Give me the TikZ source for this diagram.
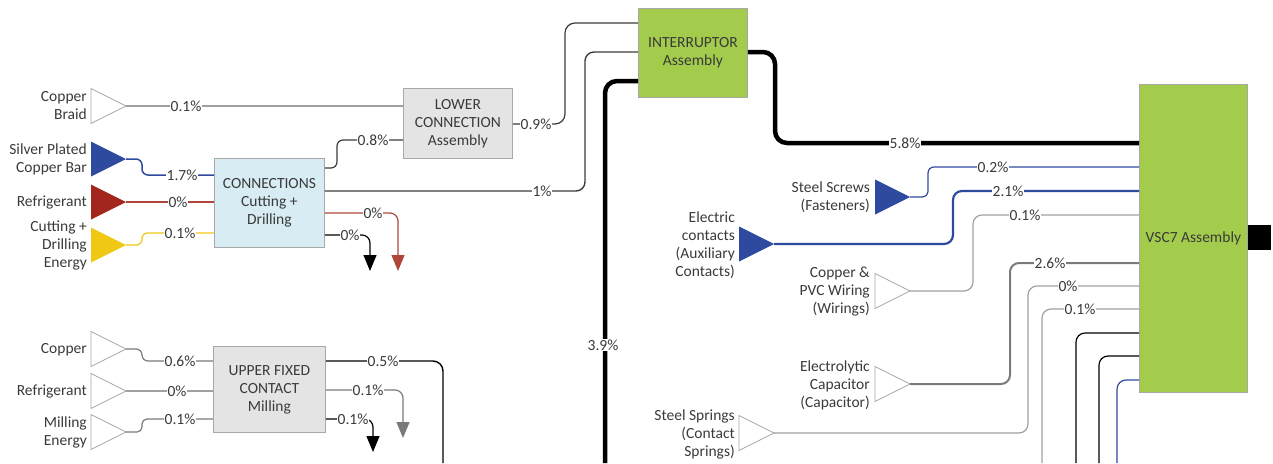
\documentclass[tikz,border=0pt]{standalone}
\usepackage{fontspec}
\setmainfont{Carlito}
\usetikzlibrary{arrows.meta}
\definecolor{txt}{HTML}{3A3A3A}
\definecolor{blu}{HTML}{2E4A9E}
\definecolor{redd}{HTML}{A3261E}
\definecolor{redl}{HTML}{B0453C}
\definecolor{yel}{HTML}{F0C814}
\definecolor{grn}{HTML}{A4CC4C}
\definecolor{lblue}{HTML}{D7ECF3}
\definecolor{lgray}{HTML}{E4E4E4}
\definecolor{bord}{HTML}{A8A8A8}
\definecolor{lin}{HTML}{A0A0A0}
\definecolor{mlin}{HTML}{7A7A7A}
\definecolor{dlin}{HTML}{3C3C3C}
\newcommand\srctri[4]{%
  \path[#4] (#1,#2-17.5) -- (#1,#2+17.5) -- (#1+35,#2) -- cycle;
  \coordinate (#3) at (#1+35,#2);}
\begin{document}
\begin{tikzpicture}[x=1pt,y=-1pt,font=\fontsize{15.5}{18}\selectfont,text=txt,
  box/.style={draw=bord,line width=0.8pt,align=center,anchor=north west,inner sep=0pt},
  lab/.style={fill=white,inner sep=1pt,text=txt},
  srclab/.style={anchor=east,align=right,inner sep=0pt},
  srcw/.style={draw=bord,fill=white,line width=0.8pt},
  srcb/.style={fill=blu},
  srcr/.style={fill=redd},
  srcy/.style={fill=yel},
  flow/.style={line width=1.2pt,rounded corners=6pt},
  tip/.style={-{Triangle[width=13pt,length=16pt]}}
]
\useasboundingbox (0,0) rectangle (1273,463);
% ---------- boxes
\node[box,fill=lblue,minimum width=110pt,minimum height=89pt] (conn) at (214,158) {CONNECTIONS\\Cutting +\\Drilling};
\node[box,fill=lgray,minimum width=109pt,minimum height=70pt] (lower) at (403,88) {LOWER\\CONNECTION\\Assembly};
\node[box,fill=grn,minimum width=109pt,minimum height=89pt] (intr) at (638,8) {INTERRUPTOR\\Assembly};
\node[box,fill=grn,minimum width=108pt,minimum height=308pt] (vsc) at (1139,84) {VSC7 Assembly};
\node[box,fill=lgray,minimum width=112pt,minimum height=86pt] (upper) at (213,346) {UPPER FIXED\\CONTACT\\Milling};
% ---------- sources
\srctri{91}{106}{cbt}{srcw}
\node[srclab] (tcb) at (87,105.5) {Copper\\Braid};
\srctri{91}{159}{spt}{srcb}
\node[srclab] (tsp) at (87,159) {Silver Plated\\Copper Bar};
\srctri{91}{202}{rft}{srcr}
\node[srclab] (trf) at (87,202) {Refrigerant};
\srctri{91}{245}{cet}{srcy}
\node[srclab] (tce) at (87,245) {Cutting +\\Drilling\\Energy};
\srctri{91}{349}{ukt}{srcw}
\node[srclab] (tuk) at (87,350) {Copper};
\srctri{91}{391}{urt}{srcw}
\node[srclab] (tur) at (87,391) {Refrigerant};
\srctri{91}{432}{umt}{srcw}
\node[srclab] (tum) at (87,432) {Milling\\Energy};
\srctri{875}{197}{sst}{srcb}
\node[srclab] (tss) at (870,197.5) {Steel Screws\\(Fasteners)};
\srctri{739}{244}{ect}{srcb}
\node[srclab] (tec) at (735,245) {Electric\\contacts\\(Auxiliary\\Contacts)};
\srctri{875}{291}{cpt}{srcw}
\node[srclab] (tcp) at (870,292) {Copper \&\\PVC Wiring\\(Wirings)};
\srctri{875}{384}{elt}{srcw}
\node[srclab] (tel) at (870,385) {Electrolytic\\Capacitor\\(Capacitor)};
\srctri{739}{433}{sgt}{srcw}
\node[srclab] (tsg) at (735,434) {Steel Springs\\(Contact\\Springs)};
% ---------- free ends
\coordinate (b39) at (605,463);
\coordinate (b05) at (443,463);
\coordinate (bv1) at (1042,463);
\coordinate (bv2) at (1076,463);
\coordinate (bv3) at (1099,463);
\coordinate (bv4) at (1117,463);
\coordinate (ar1) at (398,271);
\coordinate (ar2) at (370,271);
\coordinate (ar3) at (403,438);
\coordinate (ar4) at (373,452);
\coordinate (vout) at (1271,237.5);
% ---------- flows, left
\draw[flow,lin] (cbt) -- (lower.west |- cbt);
\draw[flow,blu,line width=1.5pt] (spt) -- (142,159) |- (conn.west |- 0,175);
\draw[flow,redl] (rft) -- (conn.west |- rft);
\draw[flow,yel,rounded corners=5pt] (cet) -- (142,245) |- (conn.west |- 0,233);
\draw[flow,dlin] (conn.east |- 0,168) -- (337,168) |- (lower.west |- 0,140);
\draw[flow,dlin,line width=1.4pt,rounded corners=9pt] (conn.east |- 0,191) -- (585,191) |- (intr.west |- 0,52);
\draw[flow,dlin,rounded corners=10pt] (lower.east |- 0,124) -- (565,124) |- (intr.west |- 0,23);
\draw[flow,redl,tip,rounded corners=8pt] (conn.east |- 0,213) -- (398,213) -- (ar1);
\draw[flow,black,tip,rounded corners=8pt] (conn.east |- 0,235) -- (370,235) -- (ar2);
\draw[flow,mlin] (ukt) -- (142,349) |- (upper.west |- 0,361);
\draw[flow,lin] (urt) -- (upper.west |- urt);
\draw[flow,mlin,rounded corners=5pt] (umt) -- (142,432) |- (upper.west |- 0,419);
\draw[flow,black,line width=1.4pt,rounded corners=10pt] (upper.east |- 0,361) -- (443,361) -- (b05);
\draw[flow,mlin,tip,rounded corners=8pt] (upper.east |- 0,390) -- (403,390) -- (ar3);
\draw[flow,black,tip,rounded corners=8pt] (upper.east |- 0,419) -- (373,419) -- (ar4);
% ---------- thick flows
\draw[black,line width=4.5pt,rounded corners=12pt] (intr.east |- 0,52) -- (775,52) |- (vsc.west |- 0,143);
\draw[black,line width=4.5pt,rounded corners=12pt] (intr.west |- 0,81) -- (605,81) -- (b39);
% ---------- flows, right
\draw[flow,blu] (sst) -- (928,197) |- (vsc.west |- 0,167);
\draw[flow,blu,line width=2.2pt,rounded corners=9pt] (ect) -- (953,244) |- (vsc.west |- 0,191);
\draw[flow,lin,rounded corners=9pt] (cpt) -- (973,291) |- (vsc.west |- 0,215);
\draw[flow,mlin,line width=2pt,rounded corners=9pt] (elt) -- (1010,384) |- (vsc.west |- 0,263);
\draw[flow,lin,rounded corners=9pt] (sgt) -- (1028,433) |- (vsc.west |- 0,286);
\draw[flow,lin,rounded corners=9pt] (bv1) |- (vsc.west |- 0,309);
\draw[flow,black,rounded corners=9pt] (bv2) |- (vsc.west |- 0,333);
\draw[flow,black,rounded corners=9pt] (bv3) |- (vsc.west |- 0,356);
\draw[flow,blu,rounded corners=9pt] (bv4) |- (vsc.west |- 0,380);
\draw[black,line width=25pt] (vsc.east |- vout) -- (vout);
% ---------- labels
\node[lab] (l1) at (186,106) {0.1\%};
\node[lab] (l2) at (182,175) {1.7\%};
\node[lab] (l3) at (178,202) {0\%};
\node[lab] (l4) at (180,233) {0.1\%};
\node[lab] (l5) at (373,140) {0.8\%};
\node[lab] (l6) at (542,191) {1\%};
\node[lab] (l7) at (536,124) {0.9\%};
\node[lab] (l8) at (373,213) {0\%};
\node[lab] (l9) at (350,235) {0\%};
\node[lab] (l10) at (905,143) {5.8\%};
\node[lab] (l11) at (603,345) {3.9\%};
\node[lab] (l12) at (993,167) {0.2\%};
\node[lab] (l13) at (1008,191) {2.1\%};
\node[lab] (l14) at (1025,215) {0.1\%};
\node[lab] (l15) at (1050,263) {2.6\%};
\node[lab] (l16) at (1068,286) {0\%};
\node[lab] (l17) at (1080,309) {0.1\%};
\node[lab] (l18) at (180,361) {0.6\%};
\node[lab] (l19) at (177,391) {0\%};
\node[lab] (l20) at (180,419) {0.1\%};
\node[lab] (l21) at (383,361) {0.5\%};
\node[lab] (l22) at (368,390) {0.1\%};
\node[lab] (l23) at (353,419) {0.1\%};
\end{tikzpicture}
\end{document}
